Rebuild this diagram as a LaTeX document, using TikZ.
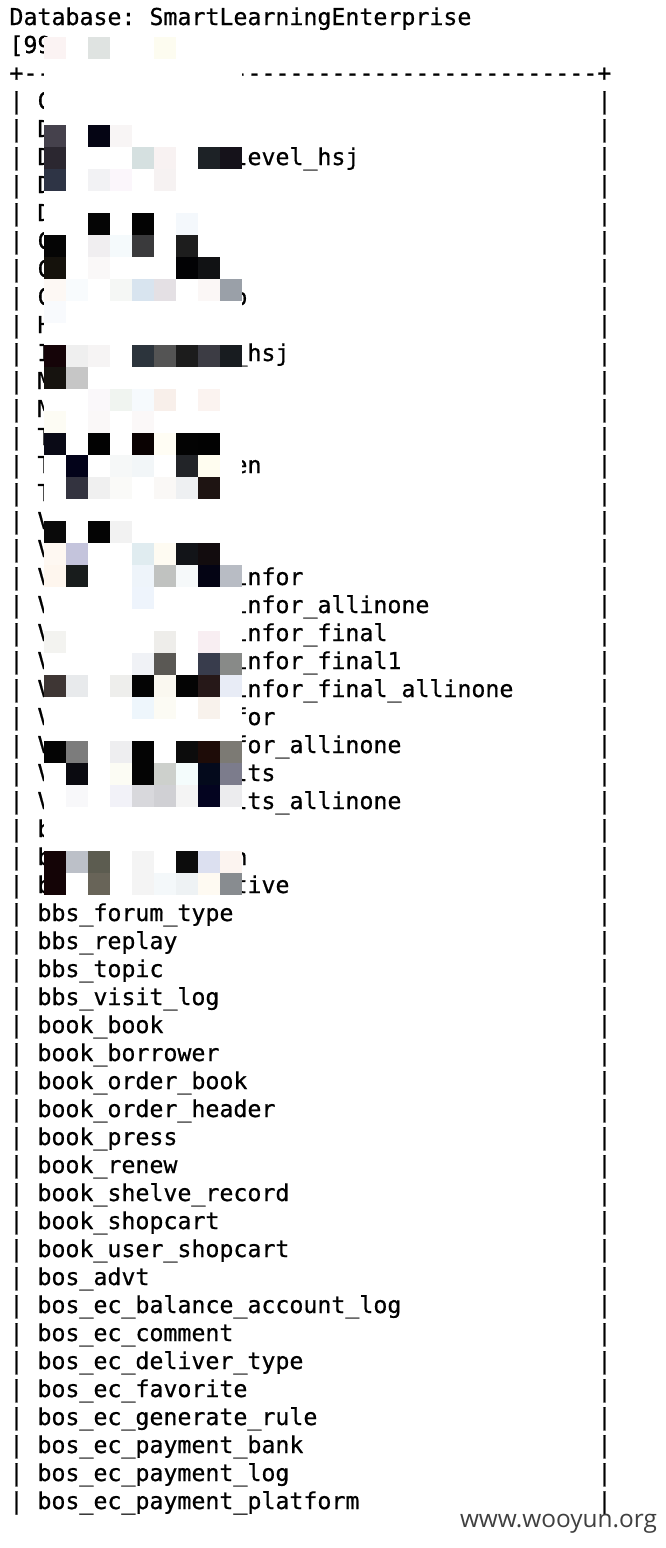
\documentclass[tikz,border=0pt]{standalone}
\usepackage{fontspec}
\setmonofont[FakeBold=0.7]{DejaVu Sans Mono}
\newfontfamily\wmfont{Open Sans}
\definecolor{wmgray}{HTML}{404040}
\newcommand\dsh{-\kern0pt}
\begin{document}
\begin{tikzpicture}[x=1pt,y=-1pt,
  term/.style={anchor=base west, inner sep=0pt, outer sep=0pt, text=black,
    font=\ttfamily\fontsize{23.25}{28}\selectfont},
  wmark/.style={anchor=base west, inner sep=0pt, outer sep=0pt, text=wmgray,
    font=\wmfont\fontsize{24.4}{30}\selectfont}]
\useasboundingbox (0,0) rectangle (666,1548);
\fill[white] (0,0) rectangle (666,1548);

% header lines
\node[term] (title) at (9.5,25) {Database: SmartLearningEnterprise};
\node[term] (cnt) at (9.5,53) {[99};
\node[term] (topl) at (9.5,81) {+\dsh\dsh};
\node[term] (topr) at (9.5+14*16,81) {\dsh\dsh\dsh\dsh\dsh\dsh\dsh\dsh\dsh\dsh\dsh\dsh\dsh\dsh\dsh\dsh\dsh\dsh\dsh\dsh\dsh\dsh\dsh\dsh\dsh\dsh+};

% rows whose names are masked
\foreach \k/\a in {3/C,4/D,5/D,6/D,7/D,8/C,9/C,10/C,11/H,12/I,13/M,14/M,15/T,16/T,17/T,
  18/V,19/V,20/V,21/V,22/V,23/V,24/V,25/V,26/V,27/V,28/V,29/b,30/b,31/b}
  \node[term] (L\k) at (9.5,25+28*\k) {| \a};

% visible tails of masked names
\foreach \k/\t in {5/level\_hsj,10/o,12/\_hsj,16/en,20/infor,21/infor\_allinone,
  22/infor\_final,23/infor\_final1,24/infor\_final\_allinone,25/for,26/for\_allinone,
  27/lts,28/lts\_allinone,30/n,31/tive}
  \node[term] (M\k) at (9.5+14*16,25+28*\k) {\t};

% fully visible rows
\foreach \k/\n in {32/bbs\_forum\_type,33/bbs\_replay,34/bbs\_topic,35/bbs\_visit\_log,
  36/book\_book,37/book\_borrower,38/book\_order\_book,39/book\_order\_header,
  40/book\_press,41/book\_renew,42/book\_shelve\_record,43/book\_shopcart,
  44/book\_user\_shopcart,45/bos\_advt,46/bos\_ec\_balance\_account\_log,
  47/bos\_ec\_comment,48/bos\_ec\_deliver\_type,49/bos\_ec\_favorite,
  50/bos\_ec\_generate\_rule,51/bos\_ec\_payment\_bank,52/bos\_ec\_payment\_log,
  53/bos\_ec\_payment\_platform}
  \node[term] (L\k) at (9.5,25+28*\k) {| \n};

% right border
\foreach \k in {3,...,53}
  \node[term] (R\k) at (9.5+14*42,25+28*\k) {|};

% mosaic
\fill[white] (44,37.3) rectangle (242,895.3);
\foreach \c/\r/\h in {
 0/0/FBF3F3,2/0/DFE3E1,5/0/FDFCF0,
 0/4/45414C,2/4/050514,3/4/F8F5F5,
 0/5/2B2730,4/5/D5E0E0,5/5/F8F2F2,7/5/1D2226,8/5/15121A,
 0/6/2E3445,2/6/F2F2F4,3/6/FBF6FB,5/6/F6F2F2,
 2/8/050505,4/8/030303,6/8/F4F8FC,
 0/9/050505,2/9/F0EEF0,3/9/F5FAFC,4/9/3A3A3C,6/9/1D1D1D,
 0/10/15120C,2/10/FAF8F8,6/10/020204,7/10/111214,
 0/11/FDF8F4,1/11/F8FBFD,3/11/F5F7F5,4/11/D8E4EF,5/11/E4E0E4,7/11/FBF7F6,8/11/9AA0A8,
 0/12/F8FAFD,
 0/14/150408,1/14/EFEFEF,2/14/F6F4F4,4/14/2C343C,5/14/545454,6/14/1C1C1C,7/14/3C3C44,8/14/181C20,
 0/15/16130F,1/15/C6C6C6,
 2/16/FAF8FA,3/16/F0F4F0,4/16/F6FAFD,5/16/F8EFEA,7/16/FBF3F0,
 0/17/FDFCF4,2/17/FAF8F8,4/17/FBF8F8,
 0/18/0A0A16,2/18/020202,4/18/0A0202,5/18/FFFDF4,6/18/030303,7/18/020202,
 1/19/03031A,3/19/F6F8F8,4/19/F2F6F8,6/19/222428,7/19/FFFDF0,
 1/20/33333F,2/20/F0F0F0,3/20/FAFAF8,5/20/FAF8F6,6/20/EEF0F2,7/20/1E1412,
 0/22/0A0A0A,2/22/040404,3/22/F2F2F2,
 0/23/FEF8F2,1/23/C4C4DC,4/23/E0ECF0,5/23/FEFBF2,6/23/121418,7/23/120C0E,
 0/24/FEF6EE,1/24/181C1C,4/24/EEF4FA,5/24/C0C2C0,6/24/F6F9FA,7/24/040414,8/24/B8BCC4,
 4/25/EEF4FC,
 0/27/F3F3F0,5/27/EEEDEA,7/27/F8EEF2,
 4/28/F0F2F6,5/28/5A5854,7/28/383C4C,8/28/888A88,
 0/29/3E3634,1/29/E8EAEC,3/29/EEEEEC,4/29/040404,5/29/FAF8F0,6/29/040404,7/29/261818,8/29/E8ECF6,
 4/30/EEF6FC,5/30/FCFBF4,7/30/F8F2EC,
 0/32/040404,1/32/7C7C7C,3/32/EEEEF0,4/32/040404,6/32/0C0C0C,7/32/1E0C08,8/32/7C7A74,
 1/33/0A0A10,3/33/FCFCF4,4/33/040404,5/33/CDD0CC,6/33/F4FCFC,7/33/040A1C,8/33/7C7C8C,
 1/34/F8F8FA,3/34/F2F2F8,4/34/D8D8DC,5/34/D0D0D4,6/34/F4F4F4,7/34/040420,8/34/ECECEE,
 0/37/140406,1/37/BCC0C8,2/37/5C5C50,4/37/F4F4F4,6/37/0C0C0C,7/37/DCE0F0,8/37/FCF4F0,
 0/38/140406,2/38/686458,4/38/F4F4F4,5/38/F4F8FA,6/38/EEF2F4,7/38/FEFAF2,8/38/888C90}
{
  \definecolor{mc}{HTML}{\h}
  \fill[mc] (44+22*\c,37.3+22*\r) rectangle ++(22,22);
}

% watermark
\node[wmark] (wm) at (460,1527) {www.wooyun.org};
\end{tikzpicture}
\end{document}
